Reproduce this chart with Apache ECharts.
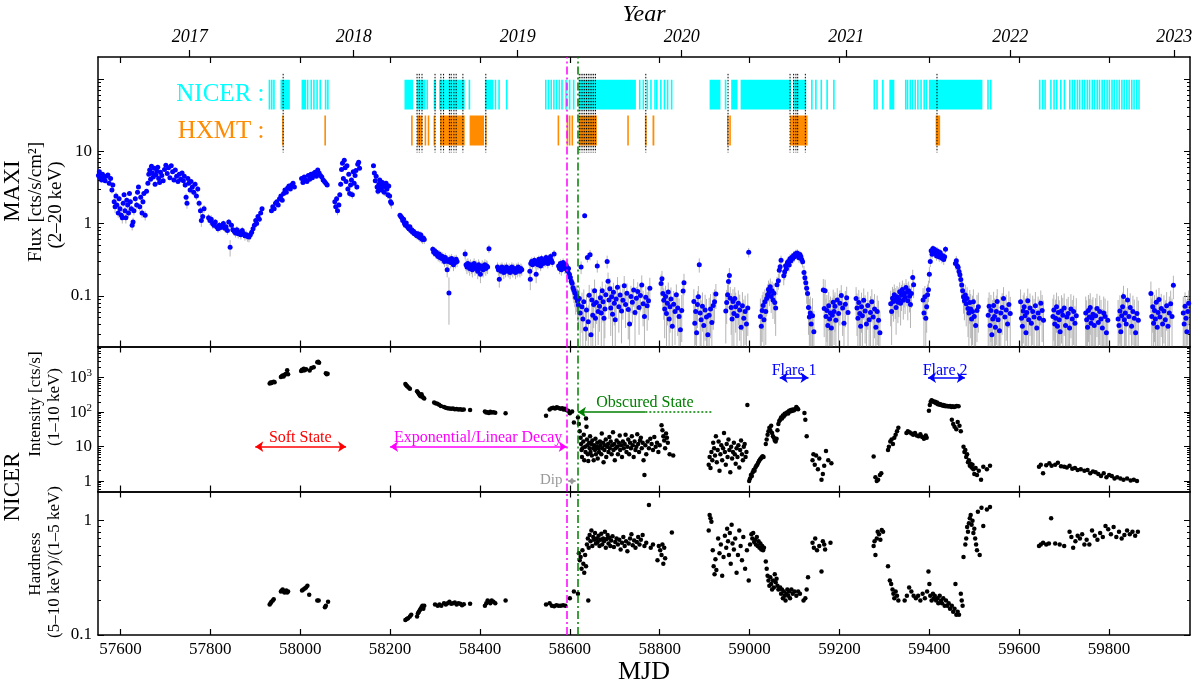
<!DOCTYPE html>
<html>
<head>
<meta charset="utf-8">
<script src="https://cdn.jsdelivr.net/npm/echarts@6/dist/echarts.min.js"></script>
<style>
  html, body { margin: 0; padding: 0; background: #fff; }
  #chart { width: 1200px; height: 690px; }
</style>
</head>
<body>
<div id="chart"></div>
<script>
// ---- data ----
const mjdTicks = [57600, 57800, 58000, 58200, 58400, 58600, 58800, 59000, 59200, 59400, 59600, 59800];
const yearTicks = [57754, 58119, 58484, 58849, 59215, 59580, 59945];
const yearLabels = ['2017', '2018', '2019', '2020', '2021', '2022', '2023'];

// state boundaries: end of decay / start of obscured state
const dipStart = 58592;
const obscuredStart = 58617;

// MAXI 2-20 keV flux: [MJD, flux, error]
const maxiFlux = [
  [57551,4.6,0.3],[57553,5.2,0.3],[57555,4.3,0.3],[57558,4.0,0.3],[57560,4.8,0.3],[57563,4.4,0.3],[57566,3.9,0.3],[57569,4.5,0.3],[57572,4.7,0.3],[57575,3.6,0.3],[57578,4.2,0.3],[57581,2.9,0.3],[57583,3.4,0.3],[57586,2.0,0.3],[57588,1.7,0.3],[57590,2.4,0.3],[57592,1.8,0.2],[57595,1.4,0.2],[57597,2.2,0.2],[57599,1.6,0.2],
  [57602,1.3,0.2],[57604,1.2,0.2],[57606,1.9,0.2],[57608,2.5,0.2],[57610,1.5,0.2],[57612,1.2,0.2],[57614,2.1,0.2],[57616,1.8,0.2],[57618,1.4,0.2],[57620,2.6,0.2],[57622,2.0,0.2],[57624,1.6,0.2],[57626,0.95,0.15],[57628,1.05,0.15],[57630,1.5,0.2],[57633,2.2,0.2],[57636,1.8,0.2],[57638,2.7,0.2],[57640,3.2,0.2],[57643,1.7,0.2],[57645,2.3,0.2],[57648,1.4,0.2],[57650,2.0,0.2],[57652,2.6,0.2],[57655,1.3,0.2],[57658,2.8,0.2],
  [57661,3.6,0.3],[57663,4.8,0.3],[57665,5.5,0.3],[57667,4.1,0.3],[57669,6.2,0.3],[57671,5.0,0.3],[57673,4.4,0.3],[57675,5.8,0.3],[57677,3.5,0.3],[57679,4.7,0.3],[57681,5.3,0.3],[57683,6.0,0.3],[57685,4.2,0.3],[57687,3.7,0.3],[57689,5.1,0.3],[57692,4.6,0.3],[57695,3.9,0.3],[57698,5.6,0.3],[57701,6.4,0.3],[57704,4.9,0.3],[57707,5.9,0.3],[57710,4.3,0.3],[57713,6.3,0.3],[57716,5.2,0.3],[57719,4.0,0.3],[57722,5.5,0.3],[57725,4.5,0.3],[57728,3.8,0.3],[57731,4.8,0.3],[57734,4.1,0.3],[57737,5.0,0.3],
  [57740,3.9,0.3],[57742,4.5,0.3],[57744,3.4,0.3],[57746,2.3,0.3],[57748,1.9,0.3],[57750,4.2,0.3],[57752,3.6,0.3],[57755,2.9,0.3],[57757,3.8,0.3],[57760,3.2,0.3],[57763,2.7,0.3],[57766,3.5,0.3],[57769,2.4,0.3],[57772,3.0,0.3],[57775,1.9,0.2],[57778,1.5,0.2],[57780,1.1,0.2],[57783,1.25,0.2],[57786,1.6,0.2],
  [57796,1.2,0.15],[57799,1.1,0.15],[57802,1.15,0.15],[57805,1.0,0.15],[57808,0.95,0.1],[57811,1.05,0.1],[57814,0.9,0.1],[57817,0.85,0.1],[57820,0.95,0.1],[57823,0.88,0.1],[57826,0.92,0.1],[57829,1.0,0.1],[57832,0.86,0.1],[57835,0.9,0.1],[57838,0.8,0.1],[57841,1.05,0.1],[57844,0.47,0.12],[57847,0.95,0.1],[57850,0.82,0.1],
  [57853,0.78,0.1],[57856,0.74,0.1],[57859,0.82,0.1],[57862,0.72,0.1],[57865,0.76,0.1],[57868,0.7,0.1],[57871,0.8,0.1],[57874,0.73,0.1],[57877,0.68,0.1],[57880,0.7,0.1],[57883,0.66,0.1],[57886,0.65,0.1],[57889,0.7,0.1],[57892,0.76,0.1],
  [57895,0.85,0.1],[57898,0.95,0.1],[57901,1.1,0.1],[57903,1.0,0.1],[57906,1.25,0.1],[57909,1.15,0.1],[57912,1.4,0.1],[57915,1.6,0.1],
  [57936,1.5,0.1],[57939,1.7,0.1],[57942,1.6,0.1],[57945,1.9,0.1],[57948,2.0,0.1],[57951,1.8,0.1],[57954,2.2,0.1],[57957,2.4,0.1],[57960,2.1,0.1],[57963,2.6,0.1],[57966,2.9,0.1],[57969,2.7,0.1],[57972,3.1,0.1],[57975,3.3,0.1],[57978,3.0,0.1],[57981,3.4,0.1],[57984,3.6,0.1],[57987,3.2,0.1],
  [58003,4.2,0.2],[58006,3.7,0.2],[58009,4.4,0.2],[58012,4.0,0.2],[58015,3.8,0.2],[58018,4.6,0.2],[58021,4.1,0.2],[58024,4.8,0.2],[58027,4.3,0.2],[58030,4.9,0.2],[58033,5.1,0.2],[58036,4.5,0.2],[58039,5.5,0.2],[58042,5.0,0.2],[58045,4.6,0.2],[58048,4.4,0.2],[58051,4.0,0.2],[58054,3.8,0.2],[58057,3.6,0.2],[58060,3.4,0.2],
  [58077,2.0,0.2],[58079,1.7,0.2],[58081,2.2,0.2],[58083,1.5,0.2],[58086,1.8,0.2],[58088,2.5,0.2],
  [58090,3.5,0.3],[58092,5.6,0.3],[58094,6.8,0.3],[58096,4.2,0.3],[58098,7.5,0.3],[58100,5.9,0.3],[58102,3.8,0.3],[58104,6.3,0.3],[58106,3.0,0.3],[58108,4.8,0.3],[58110,2.6,0.3],[58112,3.4,0.3],[58114,4.0,0.3],[58116,2.5,0.3],[58118,5.2,0.3],[58120,3.6,0.3],[58122,4.6,0.3],[58124,5.4,0.3],[58126,3.2,0.3],[58128,6.6,0.3],[58130,7.0,0.3],[58132,5.8,0.3],
  [58163,6.3,0.3],[58165,5.0,0.3],[58167,3.9,0.3],[58169,4.5,0.3],[58171,3.2,0.3],[58173,2.8,0.3],[58175,3.5,0.3],[58177,4.0,0.3],[58179,3.1,0.3],[58181,2.9,0.3],[58183,3.7,0.3],[58185,3.4,0.3],[58187,2.7,0.3],[58189,3.2,0.3],[58191,3.6,0.3],[58193,3.0,0.3],[58195,2.5,0.3],[58197,3.3,0.3],[58199,2.4,0.3],[58201,2.0,0.3],[58203,1.9,0.3],
  [58222,1.3,0.08],[58224,1.25,0.08],[58226,1.2,0.08],[58228,1.1,0.08],[58230,1.15,0.08],[58232,1.0,0.08],[58234,0.95,0.08],[58236,1.02,0.08],[58238,0.92,0.08],[58240,0.88,0.08],[58242,0.85,0.08],[58244,0.9,0.08],[58246,0.8,0.08],[58248,0.82,0.08],[58250,0.76,0.08],[58252,0.78,0.08],[58254,0.72,0.08],[58256,0.74,0.08],[58258,0.7,0.08],[58260,0.68,0.08],[58262,0.72,0.08],[58264,0.66,0.08],[58266,0.64,0.08],[58268,0.7,0.08],[58270,0.62,0.08],[58272,0.6,0.08],[58274,0.63,0.08],[58276,0.6,0.08],
  [58295,0.44,0.05],[58297,0.4,0.05],[58299,0.42,0.05],[58301,0.38,0.05],[58303,0.4,0.05],[58305,0.37,0.05],[58307,0.35,0.05],[58309,0.38,0.05],[58311,0.34,0.05],[58313,0.36,0.05],[58315,0.33,0.05],[58317,0.35,0.05],[58319,0.32,0.05],[58321,0.3,0.05],[58323,0.34,0.05],[58325,0.31,0.05],[58327,0.23,0.05],[58329,0.3,0.05],[58331,0.11,0.07],[58333,0.32,0.05],[58335,0.29,0.05],[58337,0.33,0.05],[58339,0.3,0.05],[58341,0.27,0.05],[58343,0.31,0.05],[58345,0.29,0.05],[58347,0.32,0.05],[58349,0.3,0.05],
  [58367,0.38,0.06],[58369,0.27,0.05],[58371,0.25,0.05],[58373,0.28,0.05],[58375,0.26,0.05],[58377,0.24,0.05],[58379,0.27,0.05],[58381,0.25,0.05],[58383,0.23,0.05],[58385,0.26,0.05],[58387,0.28,0.05],[58389,0.24,0.05],[58391,0.26,0.05],[58393,0.25,0.05],[58395,0.22,0.05],[58397,0.27,0.05],[58399,0.25,0.05],[58401,0.2,0.05],[58403,0.24,0.05],[58405,0.26,0.05],[58407,0.23,0.05],[58409,0.25,0.05],[58411,0.27,0.05],[58413,0.24,0.05],[58415,0.26,0.05],[58417,0.25,0.05],[58420,0.45,0.06],
  [58439,0.25,0.04],[58441,0.23,0.04],[58443,0.17,0.04],[58445,0.24,0.04],[58447,0.22,0.04],[58449,0.25,0.04],[58451,0.23,0.04],[58453,0.21,0.04],[58455,0.24,0.04],[58457,0.22,0.04],[58459,0.25,0.04],[58461,0.23,0.04],[58463,0.22,0.04],[58465,0.24,0.04],[58467,0.21,0.04],[58469,0.23,0.04],[58471,0.25,0.04],[58473,0.22,0.04],[58475,0.24,0.04],[58477,0.23,0.04],[58479,0.21,0.04],[58481,0.24,0.04],[58483,0.22,0.04],[58485,0.25,0.04],[58487,0.23,0.04],[58489,0.22,0.04],[58491,0.24,0.04],[58493,0.23,0.04],
  [58511,0.22,0.05],[58512,0.17,0.05],[58513,0.28,0.05],[58515,0.3,0.04],[58517,0.27,0.04],[58519,0.29,0.04],[58521,0.31,0.04],[58523,0.28,0.04],[58525,0.2,0.05],[58527,0.3,0.04],[58529,0.27,0.04],[58531,0.32,0.04],[58533,0.29,0.04],[58535,0.26,0.04],[58537,0.33,0.04],[58539,0.3,0.04],[58541,0.28,0.04],[58543,0.31,0.04],[58545,0.29,0.04],[58547,0.34,0.04],[58549,0.3,0.04],[58551,0.28,0.04],[58553,0.32,0.04],[58555,0.3,0.04],[58557,0.35,0.04],[58559,0.31,0.04],[58561,0.29,0.04],[58565,0.38,0.05],
  [58575,0.26,0.04],[58577,0.24,0.04],[58579,0.28,0.04],[58581,0.23,0.04],[58583,0.25,0.04],[58585,0.29,0.04],[58587,0.26,0.04],[58589,0.24,0.04],[58591,0.27,0.04],[58593,0.25,0.04],[58595,0.22,0.04],[58597,0.24,0.04],[58599,0.2,0.04],[58601,0.18,0.04],[58603,0.16,0.04],[58605,0.15,0.04],[58607,0.13,0.04],[58609,0.12,0.04],[58611,0.11,0.04],[58613,0.095,0.04],[58615,0.1,0.04],[58617,0.085,0.04],
  [58619,0.075,0.04],[58621,0.092,0.04],[58623,0.058,0.04],[58625,0.25,0.05],[58627,0.071,0.04],[58629,0.048,0.04],[58631,0.083,0.04],[58633,1.28,0.1],[58635,0.035,0.03],[58637,0.064,0.04],[58639,0.34,0.05],[58641,0.044,0.03],[58643,0.102,0.04],[58645,0.37,0.06],[58647,0.029,0.03],[58649,0.088,0.04],[58651,0.054,0.04],[58653,0.076,0.04],[58655,0.118,0.05],[58657,0.049,0.04],[58659,0.081,0.04],[58661,0.26,0.05],[58663,0.061,0.04],
  [58666,0.072,0.04],[58668,0.094,0.04],[58670,0.058,0.04],[58672,0.118,0.04],[58674,0.083,0.04],[58676,0.049,0.04],[58678,0.066,0.04],[58680,0.104,0.04],[58683,0.3,0.06],[58685,0.16,0.05],[58687,0.088,0.04],[58689,0.126,0.05],[58691,0.068,0.04],[58693,0.097,0.04],[58695,0.056,0.04],[58697,0.112,0.04],[58699,0.079,0.04],[58701,0.047,0.04],[58703,0.091,0.04],[58706,0.132,0.05],[58709,0.071,0.04],[58712,0.103,0.04],[58715,0.062,0.04],[58718,0.087,0.04],[58721,0.138,0.05],[58724,0.076,0.04],[58727,0.109,0.04],[58730,0.065,0.04],[58733,0.041,0.03],[58736,0.098,0.04],[58739,0.082,0.04],[58742,0.121,0.05],[58745,0.059,0.04],[58748,0.093,0.04],[58751,0.115,0.04],[58754,0.069,0.04],[58757,0.101,0.04],[58760,0.142,0.05],[58763,0.078,0.04],[58766,0.052,0.04],[58769,0.096,0.04],[58772,0.073,0.04],[58775,0.086,0.04],[58778,0.128,0.05],
  [58803,0.148,0.05],[58805,0.172,0.05],[58807,0.108,0.04],[58809,0.087,0.04],[58811,0.066,0.04],[58813,0.098,0.04],[58815,0.057,0.04],[58817,0.079,0.04],[58819,0.113,0.04],[58821,0.048,0.04],[58823,0.071,0.04],[58825,0.091,0.04],[58828,0.038,0.03],[58831,0.077,0.04],[58834,0.061,0.04],[58837,0.104,0.04],[58840,0.068,0.04],[58843,0.052,0.04],[58846,0.034,0.03],[58849,0.063,0.04],[58852,0.117,0.05],[58854,0.152,0.05],
  [58876,0.084,0.04],[58878,0.042,0.03],[58880,0.061,0.04],[58882,0.031,0.03],[58884,0.076,0.04],[58886,0.097,0.04],[58888,0.27,0.06],[58890,0.058,0.04],[58892,0.047,0.04],[58895,0.072,0.04],[58898,0.039,0.03],[58901,0.064,0.04],[58904,0.051,0.04],[58907,0.029,0.03],[58910,0.054,0.04],[58913,0.066,0.04],[58916,0.043,0.03],[58919,0.074,0.04],[58922,0.083,0.04],[58925,0.106,0.04],
  [58947,0.062,0.04],[58949,0.081,0.04],[58951,0.104,0.04],[58953,0.158,0.05],[58955,0.192,0.05],[58957,0.093,0.04],[58959,0.069,0.04],[58961,0.048,0.04],[58963,0.084,0.04],[58965,0.057,0.04],[58967,0.092,0.04],[58969,0.071,0.04],[58972,0.053,0.04],[58975,0.079,0.04],[58978,0.064,0.04],[58981,0.037,0.03],[58984,0.073,0.04],[58987,0.049,0.04],[58990,0.061,0.04],[58993,0.041,0.03],[58996,0.068,0.04],[58998,0.4,0.06],
  [59024,0.052,0.04],[59026,0.038,0.03],[59028,0.063,0.04],[59030,0.074,0.04],[59032,0.047,0.04],[59034,0.083,0.04],[59036,0.061,0.04],[59038,0.092,0.04],[59040,0.104,0.04],[59042,0.123,0.04],[59044,0.112,0.04],[59046,0.134,0.04],[59048,0.098,0.04],[59050,0.118,0.04],[59052,0.088,0.04],[59054,0.109,0.04],[59056,0.081,0.04],[59058,0.068,0.04],[59061,0.143,0.04],[59064,0.162,0.04],[59066,0.226,0.05],[59068,0.252,0.05],[59070,0.31,0.05],
  [59076,0.19,0.05],[59078,0.215,0.05],[59080,0.262,0.05],[59082,0.238,0.05],[59084,0.284,0.05],[59086,0.3,0.05],[59088,0.268,0.05],[59090,0.327,0.05],[59092,0.305,0.05],[59094,0.342,0.05],[59096,0.328,0.05],[59098,0.362,0.05],[59100,0.347,0.05],[59102,0.383,0.05],[59104,0.366,0.05],[59106,0.392,0.05],[59108,0.358,0.05],[59110,0.337,0.05],[59112,0.372,0.05],[59114,0.351,0.05],[59116,0.318,0.05],[59118,0.296,0.05],[59121,0.21,0.05],[59123,0.178,0.05],[59125,0.152,0.05],[59127,0.128,0.05],[59129,0.108,0.04],[59131,0.069,0.04],[59133,0.051,0.04],[59135,0.058,0.04],[59137,0.041,0.03],[59140,0.053,0.04],[59143,0.032,0.03],
  [59164,0.121,0.05],[59166,0.067,0.04],[59168,0.118,0.05],[59170,0.052,0.04],[59172,0.063,0.04],[59174,0.039,0.03],[59176,0.073,0.04],[59178,0.048,0.04],[59180,0.058,0.04],[59182,0.036,0.03],[59184,0.054,0.04],[59186,0.082,0.04],[59188,0.061,0.04],[59190,0.072,0.04],[59192,0.046,0.04],[59195,0.088,0.04],[59198,0.057,0.04],[59201,0.079,0.04],[59204,0.101,0.04],[59207,0.068,0.04],[59210,0.042,0.03],[59213,0.077,0.04],[59216,0.094,0.04],[59219,0.059,0.04],
  [59237,0.092,0.04],[59239,0.068,0.04],[59241,0.049,0.04],[59243,0.081,0.04],[59245,0.057,0.04],[59247,0.038,0.03],[59249,0.071,0.04],[59251,0.053,0.04],[59254,0.087,0.04],[59257,0.062,0.04],[59260,0.041,0.03],[59263,0.074,0.04],[59266,0.047,0.04],[59269,0.059,0.04],[59272,0.083,0.04],[59275,0.051,0.04],[59278,0.066,0.04],[59281,0.037,0.03],[59284,0.061,0.04],[59287,0.046,0.04],[59290,0.031,0.03],
  [59314,0.078,0.04],[59316,0.061,0.04],[59318,0.093,0.04],[59320,0.084,0.04],[59322,0.104,0.04],[59324,0.088,0.04],[59326,0.069,0.04],[59328,0.097,0.04],[59330,0.082,0.04],[59332,0.091,0.04],[59334,0.114,0.04],[59336,0.079,0.04],[59338,0.102,0.04],[59340,0.123,0.04],[59342,0.087,0.04],[59344,0.109,0.04],[59346,0.096,0.04],[59348,0.131,0.04],[59350,0.112,0.04],[59352,0.086,0.04],[59354,0.118,0.04],[59356,0.099,0.04],[59358,0.076,0.04],[59360,0.108,0.04],[59363,0.18,0.05],[59365,0.143,0.05],
  [59386,0.088,0.04],[59388,0.058,0.04],[59390,0.097,0.04],[59392,0.049,0.04],[59394,0.071,0.04],[59396,0.104,0.04],[59398,0.122,0.04],
  [59400,0.2,0.05],[59402,0.3,0.05],[59404,0.42,0.05],[59406,0.376,0.05],[59408,0.452,0.05],[59410,0.408,0.05],[59412,0.437,0.05],[59414,0.386,0.05],[59416,0.357,0.05],[59418,0.418,0.05],[59420,0.374,0.05],[59422,0.346,0.05],[59424,0.397,0.05],[59426,0.364,0.05],[59428,0.332,0.05],[59430,0.358,0.05],[59432,0.318,0.05],[59434,0.347,0.05],[59436,0.44,0.05],
  [59458,0.28,0.05],[59460,0.305,0.05],[59462,0.262,0.05],[59464,0.248,0.05],[59466,0.217,0.05],[59468,0.196,0.05],[59470,0.168,0.05],[59472,0.141,0.05],[59474,0.118,0.04],[59476,0.097,0.04],[59478,0.086,0.04],[59480,0.103,0.04],[59482,0.078,0.04],[59484,0.092,0.04],[59486,0.067,0.04],[59488,0.058,0.04],[59490,0.081,0.04],[59492,0.066,0.04],[59494,0.048,0.04],[59496,0.061,0.04],[59498,0.083,0.04],[59500,0.052,0.04],[59503,0.039,0.03],[59506,0.063,0.04],[59509,0.071,0.04],
  [59531,0.054,0.04],[59533,0.072,0.04],[59535,0.039,0.03],[59537,0.063,0.04],[59539,0.029,0.03],[59541,0.048,0.04],[59543,0.074,0.04],[59545,0.052,0.04],[59547,0.037,0.03],[59549,0.061,0.04],[59551,0.084,0.04],[59553,0.047,0.04],[59556,0.033,0.03],[59559,0.058,0.04],[59562,0.069,0.04],[59565,0.092,0.04],[59568,0.051,0.04],[59571,0.064,0.04],[59574,0.041,0.03],[59577,0.076,0.04],[59580,0.057,0.04],
  [59603,0.083,0.04],[59605,0.049,0.04],[59607,0.038,0.03],[59609,0.062,0.04],[59611,0.071,0.04],[59613,0.053,0.04],[59615,0.031,0.03],[59617,0.059,0.04],[59619,0.086,0.04],[59621,0.047,0.04],[59624,0.068,0.04],[59627,0.042,0.03],[59630,0.061,0.04],[59633,0.051,0.04],[59636,0.073,0.04],[59639,0.036,0.03],[59642,0.058,0.04],[59645,0.049,0.04],[59648,0.079,0.04],[59651,0.063,0.04],[59654,0.046,0.04],
  [59675,0.052,0.04],[59677,0.064,0.04],[59679,0.041,0.03],[59681,0.049,0.04],[59683,0.071,0.04],[59685,0.038,0.03],[59687,0.059,0.04],[59689,0.047,0.04],[59691,0.032,0.03],[59694,0.062,0.04],[59697,0.054,0.04],[59700,0.068,0.04],[59703,0.039,0.03],[59706,0.051,0.04],[59709,0.057,0.04],[59712,0.036,0.03],[59715,0.066,0.04],[59718,0.048,0.04],[59721,0.061,0.04],[59724,0.042,0.03],[59727,0.053,0.04],
  [59748,0.058,0.04],[59750,0.047,0.04],[59752,0.037,0.03],[59754,0.063,0.04],[59756,0.051,0.04],[59758,0.069,0.04],[59760,0.042,0.03],[59762,0.049,0.04],[59764,0.056,0.04],[59767,0.039,0.03],[59770,0.053,0.04],[59773,0.067,0.04],[59776,0.043,0.03],[59779,0.061,0.04],[59782,0.048,0.04],[59785,0.036,0.03],[59788,0.058,0.04],[59791,0.052,0.04],[59794,0.031,0.03],[59797,0.046,0.04],
  [59820,0.048,0.04],[59822,0.039,0.03],[59824,0.062,0.04],[59826,0.032,0.03],[59828,0.053,0.04],[59830,0.071,0.04],[59832,0.098,0.04],[59834,0.047,0.04],[59836,0.058,0.04],[59838,0.041,0.03],[59841,0.088,0.04],[59844,0.052,0.04],[59847,0.069,0.04],[59850,0.038,0.03],[59853,0.061,0.04],[59856,0.049,0.04],[59859,0.031,0.03],[59862,0.057,0.04],[59865,0.046,0.04],
  [59893,0.108,0.05],[59895,0.052,0.04],[59897,0.071,0.04],[59899,0.042,0.03],[59901,0.063,0.04],[59903,0.048,0.04],[59905,0.082,0.04],[59907,0.037,0.03],[59909,0.059,0.04],[59911,0.089,0.04],[59913,0.051,0.04],[59916,0.067,0.04],[59919,0.041,0.03],[59922,0.062,0.04],[59925,0.047,0.04],[59928,0.073,0.04],[59931,0.038,0.03],[59934,0.058,0.04],[59937,0.078,0.04],[59940,0.052,0.04],[59943,0.14,0.05],
  [59965,0.058,0.04],[59967,0.041,0.03],[59969,0.072,0.04],[59971,0.049,0.04],[59973,0.032,0.03],[59975,0.061,0.04],[59977,0.079,0.04]
];

// NICER 1-10 keV intensity: [MJD, cts/s]
const nicerRate = [
  [57932,680],[57934,720],[57936,700],[57938,740],[57941,760],[57943,730],
  [57957,1050],[57959,1100],[57961,1150],[57963,1080],[57965,1200],[57967,1250],[57969,1300],[57971,1650],[57973,1250],
  [58002,1550],[58004,1700],[58006,1600],[58008,1800],[58010,1650],[58013,1750],
  [58021,1600],[58025,1900],[58030,2000],[58038,2800],[58040,2900],[58042,2700],[58057,1350],[58059,1250],[58061,1300],
  [58234,650],[58236,600],[58238,560],[58241,520],[58244,480],
  [58260,400],[58262,370],[58264,340],[58266,310],[58268,290],[58270,330],[58272,280],[58274,260],[58276,250],
  [58298,190],[58301,180],[58305,175],[58309,165],[58313,150],
  [58320,140],[58324,135],[58328,130],[58332,128],[58336,125],[58340,127],[58344,122],[58348,124],[58352,120],[58356,122],[58360,118],[58364,120],[58378,115],
  [58411,105],[58414,98],[58417,100],[58420,95],[58423,102],[58426,97],[58430,100],[58434,96],[58457,93],
  [58547,78],[58555,120],[58559,130],[58563,135],[58567,128],[58571,138],[58575,132],[58579,125],[58583,130],[58586,120],[58589,126],[58592,115],[58596,110],[58600,93],[58605,104],[58609,50],
  [58618,70],[58620,45],[58622,28],[58624,18],[58625,12],[58626,8],[58627,5],[58628,9],[58630,14],[58631,22],[58632,4],[58634,10],[58635,7],[58636,65],[58637,38],[58638,16],[58639,11],[58640,6],[58641,3.8],[58643,13],[58644,9],[58645,20],[58646,7],[58648,12],[58649,5.5],[58650,15],[58652,9],[58653,4],[58654,11],[58656,8],[58657,17],[58658,6],[58660,10],[58661,13],[58662,4.5],[58664,9],[58665,7],[58667,14],[58668,11],[58670,6],[58671,24],[58672,9],[58674,13],[58675,3.5],[58677,8],[58678,11],[58680,16],[58681,5],[58683,10],[58685,12],[58686,7],[58688,19],[58689,9],[58691,14],[58693,6],[58694,11],[58696,26],[58697,8],[58699,12],[58700,4],[58702,9],[58704,15],[58706,10],[58707,6],[58709,13],[58711,21],[58712,8],[58714,11],[58716,5],[58718,14],[58720,9],[58722,12],[58724,22],[58726,7],[58728,10],[58730,16],[58732,6],[58734,13],[58736,9],[58738,20],[58740,11],[58742,5],[58744,14],[58746,8],[58748,10],[58750,23],[58752,12],[58754,7],[58756,15],[58758,18],[58760,9],[58762,13],[58764,4],[58766,1.5],[58768,11],[58770,6],[58773,14],[58776,9],[58779,17],[58782,12],[58785,8],[58788,19],[58791,10],[58794,13],[58797,7],[58800,11],[58804,42],[58806,30],[58808,20],[58810,15],[58812,9],[58814,24],[58816,18],[58818,13],[58822,6],[58830,5.5],
  [58909,3],[58911,5],[58913,2.4],[58915,7],[58917,4],[58919,13],[58921,9],[58923,5.5],[58925,20],[58927,3.5],[58929,8],[58931,14],[58933,2],[58935,6],[58937,11],[58939,4],[58941,9],[58943,25],[58945,7],[58947,3],[58949,12],[58951,5],[58953,16],[58955,8],[58957,1.8],[58959,10],[58961,4.5],[58963,7],[58965,13],[58967,6],[58969,3.2],[58971,9],[58973,5],[58975,11],[58977,2.5],[58979,8],[58981,15],[58983,6],[58985,4],[58987,10],[58989,12],[58991,5],[58993,7],[58995,160],
  [58999,1.0],[59001,1.2],[59003,1.5],[59005,1.4],[59007,1.8],[59009,2.1],[59011,2.0],[59013,2.5],[59015,2.8],[59017,3.0],[59019,3.4],[59021,3.8],[59023,4.2],[59025,4.5],[59027,4.9],[59029,5.3],[59031,5.0],
  [59036,12],[59038,16],[59040,22],[59042,28],[59044,35],[59046,30],[59048,40],[59050,25],[59052,20],[59054,18],[59056,15],[59058,14],[59060,17],[59062,30],[59064,45],[59066,55],[59068,60],
  [59070,70],[59072,65],[59074,80],[59076,75],[59078,90],[59080,85],[59082,95],[59084,100],[59086,92],[59088,110],[59090,105],[59092,115],[59094,108],[59096,120],[59098,112],[59100,118],[59102,125],[59104,140],[59106,130],[59108,122],
  [59122,95],[59124,60],[59127,20],
  [59140,4],[59142,6],[59145,3],[59148,5.5],[59152,2.2],[59155,4.5],[59160,1.1],[59163,1.6],[59166,2.8],[59170,7.5],[59175,4],[59182,3.3],
  [59276,5.2],[59280,1.3],[59283,1.0],[59286,1.1],[59290,1.5],[59293,1.7],
  [59308,8],[59310,10],[59313,14],[59316,16],[59319,12],[59322,18],[59325,22],[59328,28],[59331,35],
  [59349,25],[59352,28],[59356,26],[59360,24],[59364,22],[59368,25],[59372,21],[59376,20],[59380,23],[59384,19],[59388,17],[59392,21],[59394,18],
  [59399,110],[59401,160],[59403,200],[59405,220],[59407,210],[59409,205],[59411,195],[59413,200],[59415,180],[59417,190],[59419,170],[59421,175],[59423,165],[59425,170],[59427,160],[59429,155],[59431,160],[59433,150],[59435,155],[59437,148],[59440,150],[59443,145],[59446,150],[59449,142],[59452,148],[59455,140],[59458,145],[59461,150],[59465,148],
  [59450,60],[59453,45],[59456,38],[59460,32],[59463,52],[59467,40],[59470,28],
  [59476,10],[59478,7],[59480,8],[59482,5],[59484,6],[59486,3.5],[59488,4],[59490,2.8],[59492,3.2],[59494,2.5],[59496,3],[59498,2.2],[59500,1.6],[59503,2.4],[59506,1.5],[59510,2],[59515,1.1],[59520,2.6],[59528,2.2],[59535,2.8],
  [59644,2.6],[59648,3],[59653,1.7],[59660,2.9],[59667,3.3],[59672,2.8],[59680,3],[59686,3.4],[59693,2.7],[59700,2.6],
  [59706,2.5],[59712,2.8],[59718,2.3],[59724,2.4],[59730,2.1],[59737,2.2],[59745,2],[59752,2.1],[59758,1.7],[59764,1.9],[59770,1.8],[59776,1.6],[59782,1.4],[59788,1.7],[59794,1.3],[59800,1.5],[59806,1.4],[59812,1.2],[59818,1.3],[59825,1.2],[59832,1.1],[59840,1.2],[59848,1.05],[59855,1.1],[59862,1.0]
];

// NICER hardness (5-10 keV)/(1-5 keV): [MJD, ratio]
const nicerHard = [
  [57932,0.185],[57934,0.19],[57936,0.195],[57939,0.2],[57941,0.205],
  [57957,0.24],[57959,0.245],[57961,0.25],[57963,0.24],[57965,0.235],[57967,0.24],[57969,0.245],[57971,0.235],[57973,0.24],
  [58004,0.245],[58007,0.25],[58010,0.255],[58013,0.26],[58016,0.27],[58020,0.225],
  [58038,0.2],[58041,0.2],[58055,0.175],[58057,0.18],[58062,0.195],
  [58234,0.135],[58237,0.138],[58240,0.14],[58244,0.145],[58247,0.15],
  [58260,0.145],[58262,0.155],[58264,0.16],[58266,0.165],[58268,0.17],[58270,0.175],[58272,0.18],[58274,0.17],[58276,0.18],
  [58300,0.185],[58306,0.18],[58310,0.185],[58314,0.18],[58320,0.19],[58324,0.185],[58328,0.19],[58332,0.195],[58336,0.188],[58340,0.19],[58344,0.192],[58348,0.185],[58352,0.19],[58356,0.188],[58360,0.182],[58364,0.186],[58378,0.188],
  [58411,0.18],[58414,0.19],[58417,0.2],[58420,0.195],[58423,0.19],[58426,0.2],[58430,0.195],[58434,0.19],[58457,0.2],
  [58547,0.185],[58555,0.19],[58560,0.18],[58565,0.178],[58570,0.182],[58575,0.18],[58580,0.18],[58585,0.182],[58590,0.18],[58600,0.21],[58609,0.24],[58618,0.23],[58641,0.2],
  [58620,0.52],[58622,0.45],[58624,0.48],[58626,0.38],[58628,0.55],[58630,0.42],[58632,0.35],[58634,0.5],[58636,0.4],[58638,0.62],[58640,0.7],[58642,0.58],[58644,0.75],[58646,0.66],[58648,0.82],[58650,0.6],[58652,0.72],[58654,0.68],[58656,0.78],[58658,0.63],[58660,0.7],[58662,0.65],[58664,0.74],[58666,0.6],[58668,0.68],[58670,0.77],[58672,0.62],[58674,0.7],[58676,0.66],[58678,0.8],[58680,0.58],[58682,0.69],[58684,0.75],[58686,0.63],[58688,0.71],[58690,0.6],[58692,0.67],[58695,0.73],[58698,0.59],[58701,0.65],[58704,0.7],[58707,0.62],[58710,0.68],[58713,0.56],[58716,0.64],[58719,0.72],[58722,0.6],[58725,0.66],[58728,0.54],[58731,0.63],[58734,0.7],[58737,0.76],[58740,0.61],[58743,0.67],[58746,0.58],[58749,0.65],[58752,0.72],[58755,0.62],[58758,0.68],[58762,0.75],[58766,0.6],[58770,0.64],[58776,1.37],[58780,0.58],[58785,0.62],[58795,0.45],[58798,0.6],[58801,0.55],[58804,0.5],[58806,0.62],[58808,0.42],[58810,0.58],[58812,0.47],[58827,0.79],
  [58909,0.82],[58911,1.12],[58913,1.05],[58915,0.98],[58918,0.55],[58920,0.4],[58922,0.34],[58924,0.46],[58926,0.37],[58930,0.7],[58933,0.52],[58936,0.62],[58939,0.33],[58942,0.48],[58945,0.74],[58948,0.58],[58950,0.85],[58952,0.66],[58954,0.5],[58956,0.78],[58958,0.42],[58960,0.92],[58962,0.63],[58965,0.56],[58968,0.7],[58971,0.35],[58974,0.5],[58977,0.82],[58980,0.6],[58983,0.45],[58986,0.72],[58990,0.38],[58994,0.55],[58998,0.3],[59001,0.62],
  [59004,0.76],[59006,0.7],[59008,0.78],[59010,0.65],[59012,0.68],[59014,0.62],[59016,0.72],[59018,0.6],[59020,0.66],[59022,0.58],[59024,0.63],[59026,0.56],[59028,0.6],[59030,0.55],[59032,0.58],
  [59036,0.44],[59038,0.38],[59040,0.33],[59042,0.3],[59044,0.27],[59046,0.32],[59048,0.28],[59050,0.25],[59052,0.3],[59054,0.26],[59056,0.34],[59058,0.29],[59060,0.31],[59062,0.27],[59064,0.25],
  [59068,0.26],[59070,0.23],[59072,0.25],[59074,0.21],[59076,0.24],[59078,0.22],[59080,0.2],[59082,0.23],[59084,0.25],[59086,0.22],[59088,0.24],[59090,0.21],[59093,0.25],[59096,0.23],[59100,0.24],[59104,0.22],[59108,0.24],[59112,0.23],[59120,0.2],[59124,0.21],[59127,0.25],[59130,0.32],
  [59140,0.64],[59143,0.58],[59146,0.7],[59150,0.55],[59155,0.6],[59160,0.36],[59163,0.66],[59166,0.62],[59168,0.56],[59180,0.64],
  [59276,0.6],[59278,0.66],[59280,0.5],[59283,0.7],[59285,0.8],[59288,0.76],[59291,0.68],[59294,0.83],[59297,0.8],
  [59308,0.4],[59312,0.3],[59315,0.28],[59318,0.25],[59320,0.23],[59322,0.21],[59325,0.24],[59328,0.22],[59331,0.2],
  [59345,0.2],[59350,0.22],[59355,0.26],[59360,0.24],[59365,0.22],[59370,0.21],[59375,0.22],[59380,0.2],[59385,0.23],[59390,0.21],[59395,0.24],[59398,0.36],[59400,0.28],[59402,0.22],[59405,0.2],[59408,0.23],[59410,0.21],[59412,0.22],[59415,0.2],[59418,0.21],[59420,0.19],[59423,0.22],[59426,0.2],[59428,0.19],[59431,0.21],[59434,0.18],[59437,0.2],[59440,0.18],[59443,0.19],[59446,0.17],
  [59450,0.18],[59453,0.16],[59456,0.17],[59458,0.28],[59460,0.15],[59463,0.16],[59466,0.15],[59470,0.23],[59472,0.2],[59474,0.18],
  [59476,0.48],[59480,0.62],[59482,0.7],[59484,0.88],[59486,0.8],[59488,0.95],[59490,1.05],[59492,1.12],[59494,0.92],[59496,1.0],[59498,0.78],[59500,0.85],[59502,0.7],[59504,0.62],[59506,0.55],[59508,1.2],[59512,0.5],[59516,1.3],[59520,0.9],[59528,1.25],[59535,1.32],
  [59644,0.6],[59648,0.62],[59653,0.64],[59660,0.62],[59666,0.63],[59671,1.05],[59680,0.63],[59690,0.62],[59700,0.6],
  [59712,0.8],[59716,0.72],[59720,0.58],[59725,0.66],[59730,0.74],[59735,0.7],[59740,0.76],[59745,0.62],[59750,0.68],[59756,0.62],[59762,0.82],[59768,0.74],[59774,0.68],[59780,0.78],[59786,0.72],[59792,0.9],[59798,0.84],[59804,0.76],[59810,0.88],[59816,0.72],[59822,0.8],[59828,0.7],[59834,0.75],[59840,0.82],[59846,0.76],[59852,0.8],[59858,0.74],[59864,0.8]
];

// observation windows [start, end] (MJD)
const nicerObs = [
  [57931,57932],[57936,57937],[57941,57942],[57956,57977],
  [58003,58013],[58016,58017],[58024,58025],[58030,58031],[58037,58038],[58044,58045],[58056,58057],[58061,58062],
  [58232,58251],[58259,58279],[58282,58283],[58297,58302],[58309,58366],[58376,58377],[58411,58430],[58434,58435],[58442,58443],[58459,58460],
  [58546,58547],[58552,58553],[58558,58559],[58564,58565],[58570,58571],[58576,58577],[58582,58583],[58591,58592],[58599,58600],[58608,58609],[58620,58747],
  [58755,58756],[58763,58764],[58772,58773],[58780,58781],[58789,58790],[58793,58794],[58802,58803],[58810,58811],[58817,58818],[58826,58827],
  [58911,58935],[58946,58947],[58959,58973],[58980,59092],[59097,59126],[59138,59139],[59147,59148],[59159,59160],[59172,59173],[59187,59188],
  [59277,59278],[59283,59284],[59296,59297],[59311,59322],[59347,59348],[59351,59352],[59357,59358],[59362,59363],[59368,59369],[59374,59375],[59381,59382],[59388,59389],[59393,59394],[59399,59518],[59530,59531],[59536,59537],
  [59645,59646],[59652,59653],[59657,59658],[59670,59671],[59677,59678],[59683,59684],[59692,59693],[59700,59701],
  [59712,59713],[59718,59719],[59723,59724],[59729,59730],[59734,59735],[59740,59741],[59745,59746],[59751,59752],[59756,59757],[59762,59763],[59767,59768],[59773,59774],[59778,59779],[59784,59785],[59789,59790],[59795,59796],[59800,59801],[59806,59807],[59811,59812],[59817,59818],[59822,59823],[59828,59829],[59833,59834],[59839,59840],[59844,59845],[59850,59851],[59855,59856],[59861,59862],[59866,59867]
];
const hxmtObs = [
  [57961,57962],[58055,58056],[58248,58249],[58260,58272],[58278,58279],[58285,58286],[58298,58299],[58311,58366],[58377,58409],[58412,58414],
  [58574,58575],[58594,58595],[58599,58600],[58605,58606],[58620,58660],[58729,58730],[58767,58771],[58784,58788],[58951,58952],[58956,58957],[59090,59129],[59414,59424]
];
// simultaneous NICER + HXMT pointings
const jointObs = [57962,58260,58265,58271,58300,58313,58319,58332,58336,58342,58347,58362,58413,58621,58625,58629,58633,58637,58641,58645,58649,58653,58657,58769,58952,59090,59098,59103,59107,59124,59417];

// ---- style ----
const FONT = "'Liberation Serif', 'DejaVu Serif', serif";
const NICER_BAND = [37.5, 97];
const HXMT_BAND = [12, 31];
const JOINT_BAND = [9.6, 117];

function fmtNum(v) { return String(+Number(v).toPrecision(3)); }
function fmtPow(v) {
  if (v > 999) return '10{s|3}';
  if (v > 99) return '10{s|2}';
  return fmtNum(v);
}

function xAx(grid, pos, extra) {
  return Object.assign({
    type: 'value', gridIndex: grid, position: pos, min: 57550, max: 59980,
    axisLine: { show: true, onZero: false, lineStyle: { color: '#000', width: 1.5 } },
    axisTick: { show: true, inside: true, length: 6, customValues: mjdTicks, lineStyle: { color: '#000', width: 1.2 } },
    axisLabel: { show: false },
    splitLine: { show: false }
  }, extra || {});
}

function yAxes(grid, min, max, major, labels, minor, fmt) {
  const base = { type: 'log', logBase: 10, gridIndex: grid, min: min, max: max, splitLine: { show: false } };
  const mk = (pos, ticks, len, showLine, showLabel) => Object.assign({}, base, {
    position: pos,
    axisLine: { show: showLine, onZero: false, lineStyle: { color: '#000', width: 1.5 } },
    axisTick: { show: true, inside: true, length: len, customValues: ticks, lineStyle: { color: '#000', width: 1 } },
    axisLabel: showLabel ? {
      show: true, customValues: labels, formatter: fmt, margin: 6,
      fontFamily: FONT, fontSize: 17, color: '#000',
      rich: { s: { fontFamily: FONT, fontSize: 11, color: '#000', padding: [0, 0, 9, 0] } }
    } : { show: false }
  });
  return [
    mk('left', major, 6, true, true),
    mk('left', minor, 3, false, false),
    mk('right', major, 6, true, false),
    mk('right', minor, 3, false, false)
  ];
}

function obsRect(lo, hi, color) {
  return function (params, api) {
    const a = api.coord([api.value(0), hi]);
    const b = api.coord([api.value(1), lo]);
    const raw = b[0] - a[0];
    const w = Math.max(raw, 1.6);
    return { type: 'rect', shape: { x: a[0] - (w - raw) / 2, y: a[1], width: w, height: b[1] - a[1] }, style: { fill: color } };
  };
}

const stateLines = [
  { xAxis: dipStart, lineStyle: { color: '#ff00ff', width: 1.5, type: [8, 3, 2, 3] } },
  { xAxis: obscuredStart, lineStyle: { color: '#008000', width: 1.5, type: [8, 3, 2, 3] } }
];
function vLines(extra) {
  return { silent: true, symbol: 'none', animation: false, label: { show: false }, data: stateLines.concat(extra || []) };
}
function textMark(coord, text, color, size, pos) {
  return {
    coord: coord, symbol: 'circle', symbolSize: 0.01, itemStyle: { color: 'rgba(0,0,0,0)' },
    label: { show: true, position: pos || 'inside', distance: 2, formatter: text, color: color, fontSize: size, fontFamily: FONT }
  };
}
function arrow(from, to, color, opts) {
  opts = opts || {};
  return [
    { coord: from, symbol: opts.s0 || 'arrow', symbolSize: opts.size || 8, lineStyle: { color: color, width: 1.5, type: opts.type || 'solid' } },
    { coord: to, symbol: opts.s1 || 'arrow', symbolSize: opts.size || 8 }
  ];
}
function vText(x, y, text, size) {
  return {
    type: 'text', x: x, y: y, rotation: Math.PI / 2,
    style: { text: text, font: size + 'px ' + FONT, fill: '#000', align: 'center', verticalAlign: 'middle', textAlign: 'center', textVerticalAlign: 'middle' }
  };
}

const chart = echarts.init(document.getElementById('chart'), null, { renderer: 'canvas' });

const yAll = [].concat(
  yAxes(0, 0.02, 200, [0.1, 1, 10, 100], [0.1, 1, 10],
    [0.03,0.04,0.05,0.06,0.07,0.08,0.09,0.2,0.3,0.4,0.5,0.6,0.7,0.8,0.9,2,3,4,5,6,7,8,9,20,30,40,50,60,70,80,90], fmtNum),
  yAxes(1, 0.5, 8000, [1, 10, 100, 1000], [1, 10, 100, 1000],
    [0.6,0.7,0.8,0.9,2,3,4,5,6,7,8,9,20,30,40,50,60,70,80,90,200,300,400,500,600,700,800,900,2000,3000,4000,5000,6000,7000], fmtPow),
  yAxes(2, 0.1, 1.8, [0.1, 1], [0.1, 1], [0.2,0.3,0.4,0.5,0.6,0.7,0.8,0.9], fmtNum)
);

const option = {
  backgroundColor: '#fff',
  animation: false,
  grid: [
    { left: 98, top: 57, width: 1092, height: 289.5 },
    { left: 98, top: 346.5, width: 1092, height: 145 },
    { left: 98, top: 491.5, width: 1092, height: 143.5 }
  ],
  xAxis: [
    xAx(0, 'bottom'), xAx(0, 'top'),
    xAx(1, 'bottom'), xAx(1, 'top'),
    xAx(2, 'bottom', {
      axisLabel: { show: true, customValues: mjdTicks, formatter: v => String(Math.round(v)), margin: 6, fontFamily: FONT, fontSize: 17, color: '#000' },
      name: 'MJD', nameLocation: 'middle', nameGap: 22,
      nameTextStyle: { fontFamily: FONT, fontSize: 26, color: '#000' }
    }),
    xAx(2, 'top'),
    xAx(0, 'top', {
      axisLine: { show: false },
      axisTick: { show: true, inside: false, length: 7, customValues: yearTicks, lineStyle: { color: '#000', width: 1.2 } },
      axisLabel: {
        show: true, customValues: yearTicks, margin: 11,
        formatter: v => yearLabels[yearTicks.indexOf(Math.round(v))] || '',
        fontFamily: FONT, fontSize: 18, fontStyle: 'italic', color: '#000'
      },
      name: 'Year', nameLocation: 'middle', nameGap: 29,
      nameTextStyle: { fontFamily: FONT, fontSize: 24, fontStyle: 'italic', color: '#000' }
    })
  ],
  yAxis: yAll,
  series: [
    // MAXI error bars
    {
      type: 'custom', xAxisIndex: 0, yAxisIndex: 0, clip: true, z: 1,
      encode: { x: 0, y: 1 },
      data: maxiFlux,
      renderItem: function (params, api) {
        const f = api.value(1), e = api.value(2);
        const lo = api.coord([api.value(0), Math.max(f - e, 0.0201)]);
        const hi = api.coord([api.value(0), f + e]);
        return { type: 'line', shape: { x1: lo[0], y1: lo[1], x2: hi[0], y2: hi[1] }, style: { stroke: '#b4b4b4', lineWidth: 1 } };
      }
    },
    {
      name: 'MAXI', type: 'scatter', xAxisIndex: 0, yAxisIndex: 0, z: 3,
      data: maxiFlux.map(d => [d[0], d[1]]),
      symbolSize: 5, itemStyle: { color: '#0000ff', opacity: 1 },
      markLine: vLines(),
      markPoint: {
        silent: true, animation: false,
        data: [
          textMark([57925, 60], 'NICER :', '#00ffff', 25, 'left'),
          textMark([57925, 19], 'HXMT :', '#ff8c00', 25, 'left')
        ]
      }
    },
    {
      type: 'custom', xAxisIndex: 0, yAxisIndex: 0, z: 2, clip: true,
      encode: { x: [0, 1], y: 1 },
      data: nicerObs, renderItem: obsRect(NICER_BAND[0], NICER_BAND[1], '#00ffff')
    },
    {
      type: 'custom', xAxisIndex: 0, yAxisIndex: 0, z: 2, clip: true,
      encode: { x: [0, 1], y: 1 },
      data: hxmtObs, renderItem: obsRect(HXMT_BAND[0], HXMT_BAND[1], '#ff8c00')
    },
    {
      type: 'custom', xAxisIndex: 0, yAxisIndex: 0, z: 4, clip: true,
      encode: { x: 0, y: 0 },
      data: jointObs.map(v => [v]),
      renderItem: function (params, api) {
        const a = api.coord([api.value(0), JOINT_BAND[1]]);
        const b = api.coord([api.value(0), JOINT_BAND[0]]);
        return { type: 'line', shape: { x1: a[0], y1: a[1], x2: b[0], y2: b[1] }, style: { stroke: '#000', lineWidth: 1, lineDash: [1.5, 1.5] } };
      }
    },
    {
      name: 'NICER intensity', type: 'scatter', xAxisIndex: 2, yAxisIndex: 4, z: 3,
      data: nicerRate, symbolSize: 4.5, itemStyle: { color: '#000', opacity: 1 },
      markLine: vLines([
        arrow([57900, 10], [58102, 10], '#ff0000'),
        arrow([58200, 10], [58593, 10], '#ff00ff'),
        arrow([58618, 100], [58768, 100], '#008000', { s1: 'none' }),
        arrow([58768, 100], [58916, 100], '#008000', { s0: 'none', s1: 'none', type: [2, 2] }),
        arrow([59067, 1000], [59131, 1000], '#0000ff'),
        arrow([59397, 1000], [59479, 1000], '#0000ff'),
        arrow([58596, 1.0], [58613, 1.0], '#999999', { size: 5 })
      ]),
      markPoint: {
        silent: true, animation: false,
        data: [
          textMark([58000, 18], 'Soft State', '#ff0000', 16),
          textMark([58396, 18], 'Exponential/Linear Decay', '#ff00ff', 16),
          textMark([58767, 185], 'Obscured State', '#008000', 16),
          textMark([59099, 1600], 'Flare 1', '#0000ff', 16),
          textMark([59435, 1600], 'Flare 2', '#0000ff', 16),
          textMark([58588, 1.1], 'Dip', '#999999', 15, 'left')
        ]
      }
    },
    {
      name: 'NICER hardness', type: 'scatter', xAxisIndex: 4, yAxisIndex: 8, z: 3,
      data: nicerHard, symbolSize: 4.5, itemStyle: { color: '#000', opacity: 1 },
      markLine: vLines()
    }
  ],
  graphic: [
    vText(13, 191, 'MAXI', 23),
    vText(36, 202, 'Flux [cts/s/cm²]', 19),
    vText(56, 205, '(2–20 keV)', 19),
    vText(13, 487, 'NICER', 23),
    vText(36, 404, 'Intensity [cts/s]', 17),
    vText(55, 407, '(1–10 keV)', 17),
    vText(36, 564, 'Hardness', 17),
    vText(55, 562, '(5–10 keV)/(1–5 keV)', 17)
  ]
};

chart.setOption(option);
</script>
</body>
</html>
